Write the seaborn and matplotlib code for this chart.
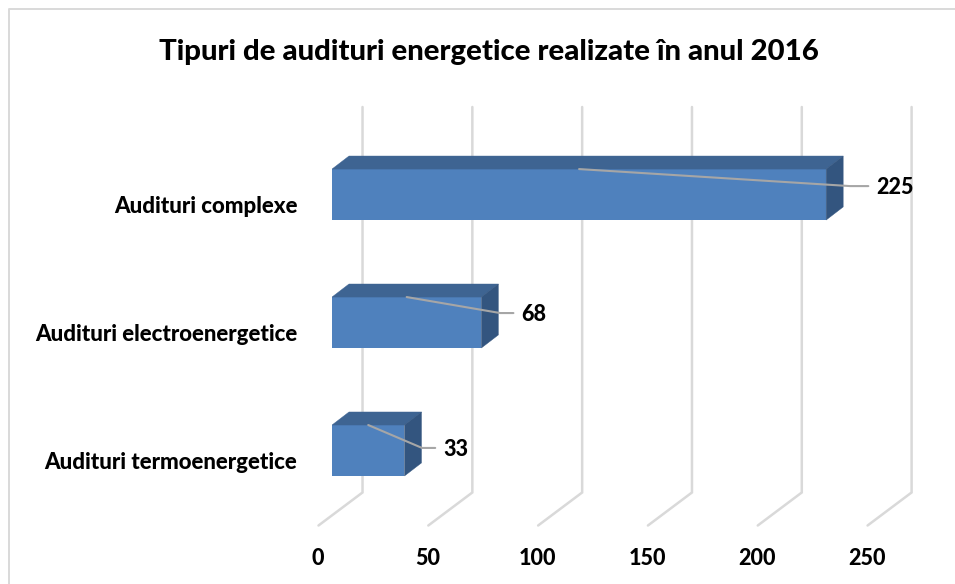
import matplotlib
matplotlib.use("Agg")
import matplotlib.pyplot as plt
from matplotlib.lines import Line2D
from matplotlib.patches import Polygon
from matplotlib.transforms import ScaledTranslation
import pandas as pd
import seaborn as sns

categories = ["Audituri complexe", "Audituri electroenergetice", "Audituri termoenergetice"]
values = [225, 68, 33]
x_ticks = [0, 50, 100, 150, 200, 250]

TITLE = "Tipuri de audituri energetice realizate în anul 2016"

# 3D look, in data units
DEPTH_X = 7.74
DEPTH_Y = 0.102
FLOOR_BACK = 13.9
FLOOR_FRONT = -6.15
FLOOR_RISE = 0.258
LEADER_GAP = [10.9, 8.6, 8.0]
LEADER_STUB = [8.3, 6.0, 6.0]
LEADER_LIFT = [-0.066, -0.074, -0.02]

BLUE = "#4F81BD"
BLUE_TOP = "#3E6492"
BLUE_SIDE = "#33557F"
GRID = "#D9D9D9"
LEADER = "#A6A6A6"

sns.set_style("white")
plt.rcParams["font.family"] = ["Lato", "DejaVu Sans"]
WEIGHT = 900

df = pd.DataFrame({"tip": categories, "numar": values})

fig = plt.figure(figsize=(9.55, 5.84), dpi=100)
ax = fig.add_axes([332 / 955, (584 - 525.5) / 584, 593 / 955, 418.5 / 584])

sns.barplot(
    data=df,
    x="numar",
    y="tip",
    color=BLUE,
    saturation=1,
    width=0.398,
    linewidth=0,
    zorder=3,
    ax=ax
)

ax.set_xlim(0, 270)
ax.set_ylim(2.586, -0.684)
ylim_bottom, ylim_top = ax.get_ylim()

# walls and floor lines
for tick in x_ticks:
    ax.plot(
        [tick + FLOOR_FRONT, tick + FLOOR_BACK, tick + FLOOR_BACK],
        [ylim_bottom, ylim_bottom - FLOOR_RISE, ylim_top],
        color=GRID,
        lw=1.8,
        clip_on=False,
        zorder=1,
        solid_joinstyle="miter"
    )

# top and side faces, label leaders
for i, bar in enumerate(ax.patches):
    x1 = bar.get_width()
    y0 = bar.get_y()
    y1 = y0 + bar.get_height()
    ax.add_patch(Polygon(
        [(0, y0), (DEPTH_X, y0 - DEPTH_Y), (x1 + DEPTH_X, y0 - DEPTH_Y), (x1, y0)],
        facecolor=BLUE_TOP, edgecolor=BLUE_TOP, lw=0.3, zorder=3
    ))
    ax.add_patch(Polygon(
        [(x1, y0), (x1 + DEPTH_X, y0 - DEPTH_Y), (x1 + DEPTH_X, y1 - DEPTH_Y), (x1, y1)],
        facecolor=BLUE_SIDE, edgecolor=BLUE_SIDE, lw=0.3, zorder=3
    ))
    elbow_x = x1 + LEADER_GAP[i]
    elbow_y = i + LEADER_LIFT[i]
    ax.plot(
        [x1 / 2, elbow_x, elbow_x + LEADER_STUB[i]],
        [y0, elbow_y, elbow_y],
        color=LEADER,
        lw=1.5,
        zorder=4,
        clip_on=False
    )
    ax.text(
        elbow_x + LEADER_STUB[i] + 3.6,
        elbow_y + 0.012,
        str(values[i]),
        fontsize=15.5,
        fontweight=WEIGHT,
        color="black",
        ha="left",
        va="center",
        zorder=5
    )

ax.set_xticks(x_ticks)
ax.set_xlabel("")
ax.set_ylabel("")
ax.tick_params(axis="y", length=0, pad=25)
ax.tick_params(axis="x", length=0, pad=16)
sns.despine(ax=ax, left=True, bottom=True)
ax.set_facecolor("none")

shift_y = ScaledTranslation(0, -7 / 72, fig.dpi_scale_trans)
for label in ax.get_yticklabels():
    label.set_fontsize(16)
    label.set_fontweight(WEIGHT)
    label.set_color("black")
    label.set_transform(label.get_transform() + shift_y)

shift_x = ScaledTranslation(-10 / 72, 0, fig.dpi_scale_trans)
for label in ax.get_xticklabels():
    label.set_fontsize(15.5)
    label.set_fontweight(WEIGHT)
    label.set_color("black")
    label.set_transform(label.get_transform() + shift_x)

fig.text(
    489 / 955,
    1 - 52 / 584,
    TITLE,
    fontsize=21.2,
    fontweight=WEIGHT,
    color="black",
    ha="center",
    va="center"
)

# chart frame, cropped in the source at right and bottom
fig.add_artist(Line2D([8.5 / 955, 8.5 / 955, 1], [0, 1 - 8.5 / 584, 1 - 8.5 / 584], color=GRID, lw=1.4))

fig.savefig("out.png", dpi=100)
plt.close(fig)
